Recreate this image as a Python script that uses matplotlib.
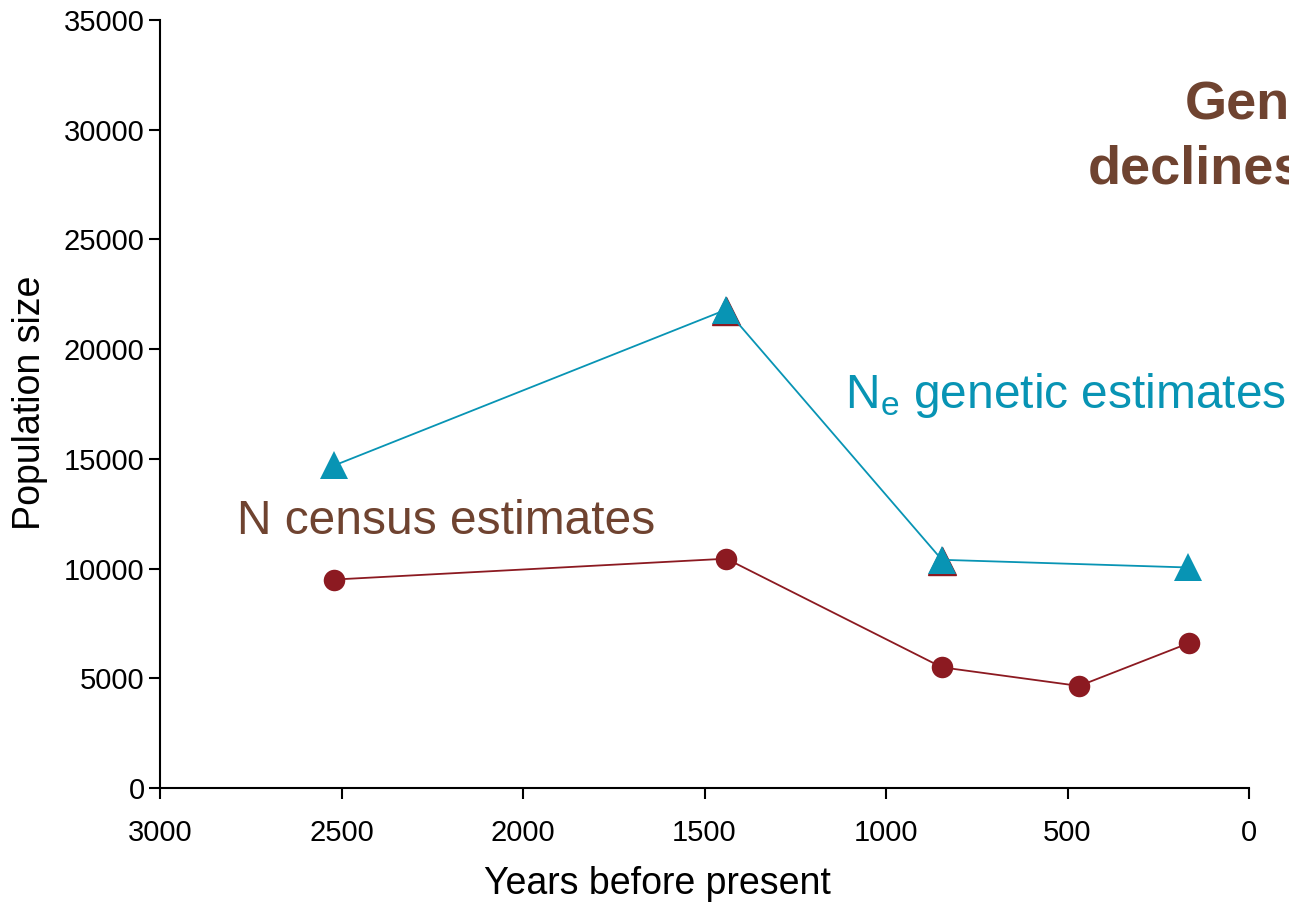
import matplotlib
matplotlib.use("Agg")
import matplotlib.pyplot as plt
import matplotlib.transforms as mtransforms

plt.rcParams['font.family'] = ['Liberation Sans', 'DejaVu Sans']

# Data
ne_years = [2520, 1440, 846, 168]
ne_values = [14700, 21800, 10400, 10050]
census_years = [2520, 1440, 846, 468, 166]
census_values = [9500, 10450, 5500, 4650, 6600]

x_ticks = [3000, 2500, 2000, 1500, 1000, 500, 0]
y_ticks = [0, 5000, 10000, 15000, 20000, 25000, 30000, 35000]

teal = '#0894B4'
darkred = '#8C1A21'
brown = '#6F4330'

fig = plt.figure(figsize=(12.89, 9.05), dpi=100)
ax = fig.add_axes([160/1289, 1-788/905, (1249-160)/1289, (788-20)/905])

# hidden dark red triangles slightly below (edge visible)
off = mtransforms.ScaledTranslation(0, -1.5/100, fig.dpi_scale_trans)
ax.plot(ne_years[1:3], ne_values[1:3], linestyle='none', marker='^', markersize=19.5,
        color=darkred, transform=ax.transData + off, zorder=2)

ax.plot(census_years, census_values, color=darkred, lw=1.3, marker='o', markersize=15.5,
        markeredgewidth=0, zorder=3)
ax.plot(ne_years, ne_values, color=teal, lw=1.3, marker='^', markersize=20,
        markeredgewidth=0, zorder=4)

ax.set_xlim(3000, 0)
ax.set_ylim(0, 35000)
ax.set_xticks(x_ticks)
ax.set_yticks(y_ticks)
ax.set_xticklabels([str(t) for t in x_ticks])
ax.set_yticklabels([str(t) for t in y_ticks])
ax.tick_params(direction='out', length=8, width=1.5, labelsize=21, colors='black')
ax.tick_params(axis='x', pad=14)
ax.tick_params(axis='y', pad=3)
for s in ['top', 'right']:
    ax.spines[s].set_visible(False)
ax.spines['left'].set_linewidth(1.5)
ax.spines['bottom'].set_linewidth(1.5)

fig.text(657/1289, 1-884/905, 'Years before present', fontsize=27, ha='center', va='center')
fig.text(30/1289, 1-403/905, 'Population size', fontsize=27, ha='center', va='center',
         rotation=90)

fig.text(237/1289, 1-522/905, 'N census estimates', color=brown, fontsize=34.5,
         ha='left', va='center')
fig.text(845/1289, 1-395/905, r'N$_\mathregular{e}$ genetic estimates', color=teal,
         fontsize=34.5, ha='left', va='center')
fig.text(1185/1289, 1-105/905, 'Gen', color=brown, fontsize=39, fontweight='bold',
         ha='left', va='center')
fig.text(1088/1289, 1-170/905, 'declines', color=brown, fontsize=39, fontweight='bold',
         ha='left', va='center')

fig.savefig('out.png', dpi=100)
